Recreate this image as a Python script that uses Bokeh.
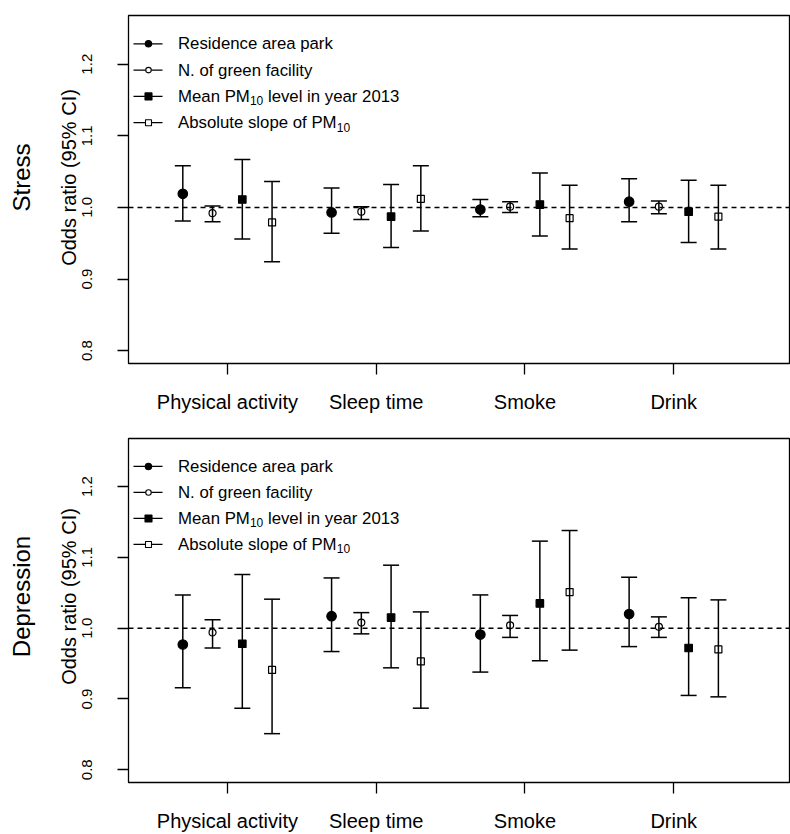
import math
from bokeh.plotting import figure
from bokeh.layouts import column
from bokeh.models import (ColumnDataSource, Whisker, TeeHead, Span, Label, Title,
                          FixedTicker, PrintfTickFormatter, Range1d, LinearAxis)
from bokeh.embed import file_html
from bokeh.resources import INLINE

# ---------------- data ----------------
categories = ["Physical activity", "Sleep time", "Smoke", "Drink"]
cat_pos = [1, 2, 3, 4]
series_names = ["Residence area park", "N. of green facility",
                "Mean PM10 level in year 2013", "Absolute slope of PM10"]
y_ticks = [0.8, 0.9, 1.0, 1.1, 1.2]
panel_titles = ["Stress", "Depression"]
y_title = "Odds ratio (95% CI)"

# Stress
stress_park = [1.019, 0.993, 0.997, 1.008]
stress_park_lo = [0.981, 0.964, 0.987, 0.980]
stress_park_hi = [1.058, 1.027, 1.011, 1.040]
stress_green = [0.992, 0.994, 1.001, 1.001]
stress_green_lo = [0.980, 0.983, 0.993, 0.991]
stress_green_hi = [1.002, 1.001, 1.008, 1.009]
stress_pm = [1.011, 0.987, 1.004, 0.994]
stress_pm_lo = [0.956, 0.944, 0.960, 0.951]
stress_pm_hi = [1.067, 1.032, 1.048, 1.038]
stress_slope = [0.979, 1.012, 0.985, 0.987]
stress_slope_lo = [0.924, 0.967, 0.942, 0.942]
stress_slope_hi = [1.036, 1.058, 1.031, 1.031]

# Depression
dep_park = [0.977, 1.017, 0.991, 1.020]
dep_park_lo = [0.916, 0.967, 0.938, 0.974]
dep_park_hi = [1.047, 1.071, 1.047, 1.072]
dep_green = [0.994, 1.008, 1.004, 1.002]
dep_green_lo = [0.972, 0.992, 0.987, 0.987]
dep_green_hi = [1.012, 1.022, 1.018, 1.016]
dep_pm = [0.978, 1.015, 1.035, 0.972]
dep_pm_lo = [0.887, 0.944, 0.954, 0.905]
dep_pm_hi = [1.076, 1.089, 1.123, 1.043]
dep_slope = [0.941, 0.953, 1.051, 0.970]
dep_slope_lo = [0.851, 0.887, 0.969, 0.903]
dep_slope_hi = [1.041, 1.023, 1.138, 1.040]

panels = [
    [(stress_park, stress_park_lo, stress_park_hi),
     (stress_green, stress_green_lo, stress_green_hi),
     (stress_pm, stress_pm_lo, stress_pm_hi),
     (stress_slope, stress_slope_lo, stress_slope_hi)],
    [(dep_park, dep_park_lo, dep_park_hi),
     (dep_green, dep_green_lo, dep_green_hi),
     (dep_pm, dep_pm_lo, dep_pm_hi),
     (dep_slope, dep_slope_lo, dep_slope_hi)],
]

# ---------------- layout constants ----------------
FONT = "Liberation Sans"
FRAME_W, FRAME_H = 661, 348
LEFT, RIGHT = 128, 1
X0, X1 = 0.335, 4.778
Y0, Y1 = 0.782, 1.268
dodge = [-0.3, -0.1, 0.1, 0.3]
TITLE_CENTER = 162  # px below frame top
TITLE_GAP = 21      # px between axis title and panel title

styles = [("circle", 9.5, "black"), ("circle", 7, None),
          ("square", 7.5, "black"), ("square", 7, None)]
leg_styles = [("circle", 6.5, "black"), ("circle", 5.5, None),
              ("square", 7, "black"), ("square", 6, None)]

# Arial / Liberation Sans advance widths (per 1000 em)
AW = {" ": 278, "A": 667, "C": 722, "D": 722, "I": 278, "M": 833, "O": 778,
      "P": 667, "S": 667, "a": 556, "b": 556, "d": 556, "e": 556, "f": 278,
      "i": 222, "l": 222, "n": 556, "o": 556, "p": 556, "r": 333, "s": 500,
      "t": 278, "u": 556, "0": 556, "1": 556, "5": 556, "9": 556, "%": 889,
      "(": 333, ")": 333}


def text_w(s, size):
    return sum(AW.get(c, 556) for c in s) / 1000.0 * size


def px_x(dx):
    return X0 + dx / FRAME_W * (X1 - X0)


def px_y(dy):
    return Y1 - dy / FRAME_H * (Y1 - Y0)


def label(x, y, text, size):
    return Label(x=x, y=y, text=text, text_font=FONT, text_font_size=f"{size}px",
                 text_baseline="middle", text_align="left", text_color="black")


def make_panel(idx, height, top, bottom):
    p = figure(width=LEFT + FRAME_W + RIGHT, height=height,
               x_range=Range1d(X0, X1), y_range=Range1d(Y0, Y1),
               output_backend="svg", toolbar_location=None,
               min_border_left=LEFT, min_border_right=RIGHT,
               min_border_top=top, min_border_bottom=bottom)
    p.grid.visible = False
    p.outline_line_color = "black"
    p.outline_line_width = 1.3
    p.background_fill_color = "white"
    p.border_fill_color = "white"

    p.xaxis.ticker = FixedTicker(ticks=cat_pos)
    p.xaxis.major_label_overrides = {k: c for k, c in zip(cat_pos, categories)}
    p.yaxis.ticker = FixedTicker(ticks=y_ticks)
    p.yaxis.formatter = PrintfTickFormatter(format="%.1f")
    for ax in (p.xaxis[0], p.yaxis[0]):
        ax.axis_line_color = None
        ax.major_tick_in = 0
        ax.major_tick_out = 11
        ax.major_tick_line_width = 1.3
        ax.major_tick_line_color = "black"
        ax.minor_tick_line_color = None
        ax.major_label_text_font = FONT
        ax.major_label_text_color = "black"
    p.xaxis.major_label_text_font_size = "20px"
    p.xaxis.major_label_standoff = 16
    p.yaxis.major_label_text_font_size = "15px"
    p.yaxis.major_label_orientation = "parallel"
    p.yaxis.major_label_standoff = 25

    p.add_layout(Span(location=1.0, dimension="width", line_color="black",
                      line_width=1.5, line_dash="5 4"))

    for s, (orv, lo, hi) in enumerate(panels[idx]):
        xs = [c + dodge[s] for c in cat_pos]
        src = ColumnDataSource(dict(x=xs, y=orv, lo=lo, hi=hi))
        p.add_layout(Whisker(base="x", upper="hi", lower="lo", source=src,
                             dimension="height", line_color="black", line_width=1.5,
                             upper_head=TeeHead(size=16, line_width=1.5, line_color="black"),
                             lower_head=TeeHead(size=16, line_width=1.5, line_color="black")))
        mk, sz, fill = styles[s]
        p.scatter("x", "y", source=src, marker=mk, size=sz,
                  fill_color=fill if fill else "white",
                  fill_alpha=1.0 if fill else 0.0,
                  line_color="black", line_width=1.2)

    # legend
    lsize = 16.8
    tx = 49.5
    for s, name in enumerate(series_names):
        dy = 28.3 + s * 26.3
        yy = px_y(dy)
        p.segment(x0=[px_x(5)], y0=[yy], x1=[px_x(34)], y1=[yy],
                  line_color="black", line_width=1.3)
        mk, sz, fill = leg_styles[s]
        p.scatter(x=[px_x(20)], y=[yy], marker=mk, size=sz,
                  fill_color=fill if fill else "white", fill_alpha=1.0,
                  line_color="black", line_width=1.1)
        if "PM10" in name:
            base, rest = name.split("PM10")
            base = base + "PM"
            p.add_layout(label(px_x(tx), yy, base, lsize))
            sx = tx + text_w(base, lsize)
            p.add_layout(label(px_x(sx), px_y(dy + 4.5), "10", 12))
            if rest.strip():
                rx = sx + text_w("10", 12) + text_w(" ", lsize)
                p.add_layout(label(px_x(rx), yy, rest.strip(), lsize))
        else:
            p.add_layout(label(px_x(tx), yy, name, lsize))

    # left side: axis title, invisible spacer axis, panel title
    off1 = FRAME_H - TITLE_CENTER - text_w(y_title, 20) / 2
    off2 = FRAME_H - TITLE_CENTER - text_w(panel_titles[idx], 24) / 2
    p.add_layout(Title(text=y_title, align="left", offset=off1, text_font=FONT,
                       text_font_size="20px", text_font_style="normal",
                       vertical_align="bottom", text_color="black", standoff=0), "left")
    spacer = LinearAxis(ticker=FixedTicker(ticks=[1.0]), axis_line_color=None,
                        major_tick_line_color="white", major_tick_line_alpha=0.01,
                        minor_tick_line_color=None,
                        major_label_text_color=None,
                        major_tick_in=0, major_tick_out=TITLE_GAP,
                        major_label_standoff=0,
                        minor_tick_in=0, minor_tick_out=0)
    p.add_layout(spacer, "left")
    p.add_layout(Title(text=panel_titles[idx], align="left", offset=off2,
                       text_font=FONT, text_font_size="24px", text_font_style="normal",
                       vertical_align="bottom", text_color="black", standoff=0), "left")
    return p


p1 = make_panel(0, 431, 15, 68)
p2 = make_panel(1, 403, 7, 48)
layout = column(p1, p2)

open("out.html", "w").write(file_html(layout, INLINE))
